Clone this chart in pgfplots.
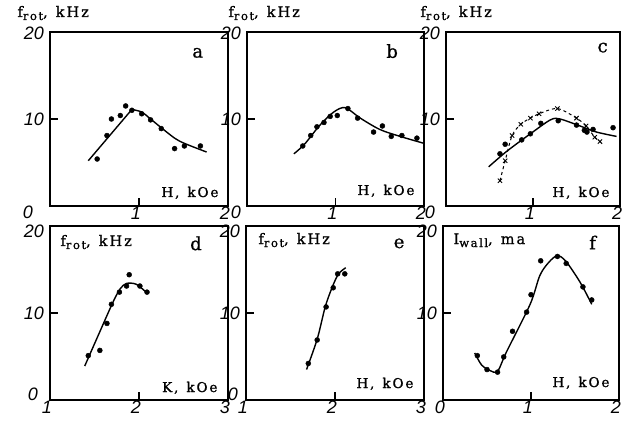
\documentclass[border=0pt]{standalone}
\usepackage{pgfplots}
\pgfplotsset{compat=1.18}
\usepackage{fontspec}
\setmainfont{DejaVu Serif}
\newfontfamily\labfont[LetterSpace=14, FakeBold=1]{DejaVu Serif}
\newfontfamily\letfont[FakeBold=0.8]{DejaVu Serif}
\newfontfamily\numfont{Liberation Sans}

\newcommand\lab{\fontsize{14.5}{15}\selectfont\labfont}
\newcommand\hlab{\fontsize{13.5}{14}\selectfont\labfont}
\newcommand\sub[1]{\raisebox{-3pt}{\fontsize{11.5}{11}\selectfont #1}}
\newcommand\gap{,\hspace{8pt}}
\newcommand\tnum{\fontsize{18}{18}\selectfont\numfont\itshape}
\newcommand\letr{\fontsize{18}{18}\selectfont\letfont}
% "0" at the lower left corner of a panel, shifted down (top row) or up (bottom row)
\newcommand\zlow[1]{\raisebox{-13pt}[0pt][0pt]{0\hspace*{#1}}}
\newcommand\zhigh[1]{\raisebox{0pt}[0pt][0pt]{0\hspace*{#1}}}
\newcommand\twenty[1]{\raisebox{#1}[0pt][0pt]{20}}

\pgfplotsset{
  panel/.style={
    scale only axis, height=174pt,
    ymin=0, ymax=20,
    axis line style={line width=1.5pt},
    tick align=inside, xtick pos=bottom, ytick pos=left,
    major tick length=0pt,
    ytick={0,10,20},
    extra y ticks={10}, extra y tick labels={},
    extra x tick labels={},
    extra tick style={major tick length=8pt, tick style={line width=1.1pt, black}},
    xticklabel style={font=\tnum, inner sep=1pt, xshift=-3pt},
    yticklabel style={font=\tnum, inner sep=1pt, xshift=-5pt},
    clip=false,
  },
  toprow/.style={panel, xmin=0, xmax=2, xtick={1,2}, xticklabels={1,2}, extra x ticks={1}},
  botrow/.style={panel},
  dots/.style={only marks, mark=*, mark size=2.5pt, black},
  curve/.style={smooth, line width=1.4pt, black, no marks},
}

\begin{document}
\begin{tikzpicture}
\useasboundingbox (0,0) rectangle (632pt,426pt);

% a
\begin{axis}[toprow, width=178pt, at={(50pt,220pt)}, anchor=south west,
  yticklabels={\zlow{11pt},10,\twenty{-8pt}}]
\addplot[dots] coordinates {(0.53,5.4)(0.64,8.1)(0.69,10.0)(0.79,10.4)(0.85,11.5)(0.92,11.0)
  (1.03,10.6)(1.13,9.9)(1.25,8.9)(1.40,6.6)(1.51,6.9)(1.69,6.9)};
\addplot[line width=1.4pt, black, no marks] coordinates {(0.43,5.2)(0.92,11.1)};
\addplot[curve] coordinates {(0.92,11.1)(1.03,10.8)(1.13,10.0)(1.25,9.0)(1.40,7.8)(1.51,7.2)(1.76,6.2)};
\node[anchor=base west, font=\lab] at (rel axis cs:0,1) [xshift=-36pt, yshift=15pt] {f\sub{rot}\gap kHz};
\node[font=\letr] at (rel axis cs:0.83,0.88) {a};
\node[anchor=base east, font=\hlab] at (rel axis cs:1,0) [xshift=-6pt, yshift=9pt] {H\gap kOe};
\end{axis}

% b
\begin{axis}[toprow, width=177pt, at={(247pt,220pt)}, anchor=south west,
  yticklabels={\zlow{0pt},10,\twenty{-8pt}}]
\addplot[dots] coordinates {(0.63,6.9)(0.72,8.1)(0.79,9.1)(0.87,9.6)(0.94,10.3)(1.02,10.4)
  (1.14,11.2)(1.25,10.1)(1.43,8.5)(1.53,9.2)(1.63,8.0)(1.75,8.1)(1.92,7.8)};
\addplot[curve] coordinates {(0.53,6.0)(0.65,7.1)(0.82,9.25)(0.98,10.8)(1.11,11.3)(1.28,10.1)
  (1.50,8.8)(1.73,8.0)(2.0,7.2)};
\node[anchor=base west, font=\lab] at (rel axis cs:0,1) [xshift=-22pt, yshift=15pt] {f\sub{rot}\gap kHz};
\node[font=\letr] at (rel axis cs:0.82,0.89) {b};
\node[anchor=base east, font=\hlab] at (rel axis cs:1,0) [xshift=-6pt, yshift=11pt] {H\gap kOe};
\end{axis}

% c
\begin{axis}[toprow, width=174pt, at={(446pt,220pt)}, anchor=south west,
  yticklabels={\zlow{5pt},10,\twenty{-8pt}}]
\addplot[dots] coordinates {(0.62,6.0)(0.68,7.1)(0.87,7.6)(0.97,8.3)(1.09,9.5)(1.29,9.8)
  (1.50,9.3)(1.59,8.7)(1.62,8.5)(1.69,8.8)(1.92,9.0)};
\addplot[curve] coordinates {(0.49,4.5)(0.70,6.3)(0.97,8.3)(1.20,9.9)(1.31,10.0)(1.54,9.2)
  (1.73,8.5)(1.96,8.0)};
\addplot[smooth, dashed, line width=1pt, black, mark=x, mark size=3pt,
  mark options={solid, line width=0.9pt}] coordinates {(0.62,2.9)(0.68,5.2)(0.76,8.1)(0.86,9.4)
  (0.97,10.1)(1.07,10.6)(1.28,11.2)(1.50,10.1)(1.61,9.2)(1.71,7.9)(1.77,7.4)};
\node[anchor=base west, font=\lab] at (rel axis cs:0,1) [xshift=-29pt, yshift=15pt] {f\sub{rot}\gap kHz};
\node[font=\letr] at (rel axis cs:0.90,0.91) {c};
\node[anchor=base east, font=\hlab] at (rel axis cs:1,0) [xshift=-7pt, yshift=9pt] {H\gap kOe};
\end{axis}

% d
\begin{axis}[botrow, width=178pt, xmin=1, xmax=3, xtick={1,2,3}, xticklabels={1,2,3},
  extra x ticks={2}, at={(50pt,26pt)}, anchor=south west,
  yticklabels={\zhigh{6pt},10,\twenty{-12pt}}]
\addplot[dots] coordinates {(1.43,5.1)(1.56,5.7)(1.64,8.8)(1.69,11.0)(1.78,12.4)(1.89,14.4)
  (1.86,13.1)(2.01,13.1)(2.09,12.4)};
\addplot[curve] coordinates {(1.39,3.9)(1.56,7.85)(1.71,11.3)(1.79,12.8)(1.86,13.4)(1.97,13.3)(2.09,12.3)};
\node[anchor=base west, font=\lab] at (rel axis cs:0,1) [xshift=7pt, yshift=-20pt] {f\sub{rot}\gap kHz};
\node[font=\letr] at (rel axis cs:0.82,0.90) {d};
\node[anchor=base east, font=\hlab] at (rel axis cs:1,0) [xshift=-7pt, yshift=8pt] {K\gap kOe};
\end{axis}

% e
\begin{axis}[botrow, width=178pt, xmin=1, xmax=3, xtick={1,2,3}, xticklabels={1,2,3},
  extra x ticks={2}, at={(246pt,26pt)}, anchor=south west,
  yticklabels={\zhigh{2pt},10,\twenty{-12pt}}]
\addplot[dots] coordinates {(1.70,4.2)(1.80,6.9)(1.90,10.7)(1.98,12.9)(2.03,14.5)(2.11,14.5)};
\addplot[curve] coordinates {(1.68,3.5)(1.80,7.0)(1.89,10.7)(1.97,13.0)(2.04,14.5)(2.12,15.2)};
\node[anchor=base west, font=\lab] at (rel axis cs:0,1) [xshift=9pt, yshift=-18pt] {f\sub{rot}\gap kHz};
\node[font=\letr] at (rel axis cs:0.86,0.90) {e};
\node[anchor=base east, font=\hlab] at (rel axis cs:1,0) [xshift=-7pt, yshift=12pt] {H\gap kOe};
\end{axis}

% f
\begin{axis}[botrow, width=176pt, xmin=0, xmax=2, xtick={0,1,2}, xticklabels={0,1,2},
  extra x ticks={1}, at={(443pt,26pt)}, anchor=south west,
  yticklabels={,10,\twenty{-12pt}}]
\addplot[dots] coordinates {(0.39,5.1)(0.50,3.5)(0.62,3.2)(0.69,4.95)(0.79,7.9)(0.95,10.1)
  (1.00,12.1)(1.11,16.0)(1.30,16.5)(1.40,15.7)(1.59,13.0)(1.69,11.5)};
\addplot[curve] coordinates {(0.36,5.4)(0.44,4.0)(0.53,3.4)(0.62,3.3)(0.72,5.5)(0.99,11.0)
  (1.10,14.3)(1.20,15.8)(1.30,16.6)(1.40,15.9)(1.56,13.5)(1.69,11.0)};
\node[anchor=base west, font=\lab] at (rel axis cs:0,1) [xshift=7pt, yshift=-18pt] {I\sub{wall}\gap ma};
\node[font=\letr] at (rel axis cs:0.85,0.905) {f};
\node[anchor=base east, font=\hlab] at (rel axis cs:1,0) [xshift=-6pt, yshift=13pt] {H\gap kOe};
\end{axis}
\end{tikzpicture}
\end{document}
